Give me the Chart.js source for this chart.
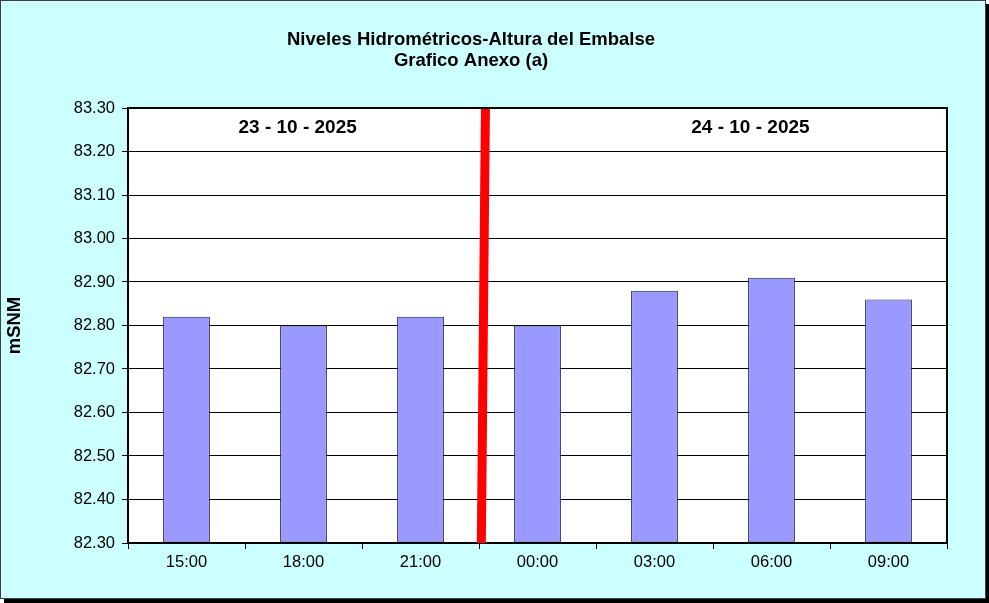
<!DOCTYPE html>
<html>
<head>
<meta charset="utf-8">
<script src="https://cdn.jsdelivr.net/npm/chart.js@4/dist/chart.umd.min.js"></script>
<style>
html,body{margin:0;padding:0;background:#ffffff;}
#wrap{position:relative;width:989px;height:603px;}
</style>
</head>
<body>
<div id="wrap"><canvas id="c" width="989" height="603"></canvas></div>
<script>
const categories = ["15:00","18:00","21:00","00:00","03:00","06:00","09:00"];
const levels = [82.82, 82.80, 82.82, 82.80, 82.88, 82.91, 82.86];
const yMin = 82.30, yMax = 83.30, yStep = 0.10;
const titleLines = ["Niveles Hidrométricos-Altura del Embalse", "Grafico Anexo (a)"];
const dateLabels = ["23 - 10 - 2025", "24 - 10 - 2025"];
const dateLabelPos = [0.95, 4.82];           // category-index positions
const dividerTop = 2.555, dividerBottom = 2.52; // category-index positions of the day divider

const FONT = "'Liberation Sans', Arial, sans-serif";

const framePlugin = {
  id: 'frame',
  beforeDraw(chart) {
    const ctx = chart.ctx;
    const a = chart.chartArea;
    ctx.save();
    ctx.fillStyle = '#000000';
    ctx.fillRect(4, 4, 985, 599);
    ctx.fillStyle = '#CCFFFF';
    ctx.fillRect(0, 0, 986, 599);
    ctx.strokeStyle = '#404040';
    ctx.lineWidth = 1;
    ctx.strokeRect(0.5, 0.5, 985, 598);
    ctx.fillStyle = '#FFFFFF';
    ctx.fillRect(a.left, a.top, a.right - a.left, a.bottom - a.top);
    ctx.fillStyle = '#000000';
    ctx.font = 'bold 18.5px ' + FONT;
    ctx.textAlign = 'center';
    ctx.textBaseline = 'middle';
    ctx.fillText(titleLines[0], 471, 40);
    ctx.fillText(titleLines[1], 471, 61);
    ctx.restore();
  },
  afterDraw(chart) {
    const ctx = chart.ctx;
    const a = chart.chartArea;
    const x = chart.scales.x, y = chart.scales.y;
    ctx.save();
    ctx.strokeStyle = '#000000';
    ctx.lineWidth = 2;
    ctx.strokeRect(a.left, a.top, a.right - a.left, a.bottom - a.top);
    ctx.strokeStyle = '#FF0000';
    ctx.lineWidth = 9;
    ctx.lineCap = 'butt';
    ctx.beginPath();
    ctx.moveTo(x.getPixelForValue(dividerTop), y.getPixelForValue(yMax) + 1);
    ctx.lineTo(x.getPixelForValue(dividerBottom), y.getPixelForValue(yMin));
    ctx.stroke();
    ctx.fillStyle = '#000000';
    ctx.font = 'bold 19px ' + FONT;
    ctx.textAlign = 'center';
    ctx.textBaseline = 'middle';
    dateLabels.forEach((t, i) => {
      ctx.fillText(t, x.getPixelForValue(dateLabelPos[i]), y.getPixelForValue(83.255));
    });
    ctx.restore();
  }
};

new Chart(document.getElementById('c'), {
  type: 'bar',
  data: {
    labels: categories,
    datasets: [{
      data: levels,
      backgroundColor: '#9999FF',
      borderColor: '#222244',
      borderWidth: 1,
      borderSkipped: false,
      barPercentage: 0.4,
      categoryPercentage: 1.0,
      base: yMin
    }]
  },
  options: {
    responsive: false,
    animation: false,
    devicePixelRatio: 1,
    layout: { padding: { left: 0, top: 108, right: 42, bottom: 0 } },
    plugins: { legend: { display: false }, tooltip: { enabled: false }, title: { display: false } },
    scales: {
      x: {
        afterFit(s) { s.height = 60; },
        grid: { offset: true, drawOnChartArea: false, drawTicks: true, tickLength: 6, color: '#000000', lineWidth: 1 },
        border: { display: true, color: '#000000', width: 2 },
        ticks: { color: '#000000', font: { family: FONT, size: 16.5 }, padding: 4, maxRotation: 0 }
      },
      y: {
        min: yMin, max: yMax,
        afterFit(s) { s.width = 128; },
        title: { display: true, text: 'mSNM', color: '#000000', font: { family: FONT, size: 18.5, weight: 'bold' }, padding: { top: 4, bottom: 0 } },
        grid: { color: '#000000', lineWidth: 1, drawTicks: true, tickLength: 6 },
        border: { display: true, color: '#000000', width: 2 },
        ticks: {
          stepSize: yStep, color: '#000000', font: { family: FONT, size: 16.5 }, padding: 7,
          callback: v => Number(v).toFixed(2)
        }
      }
    }
  },
  plugins: [framePlugin]
});
</script>
</body>
</html>
